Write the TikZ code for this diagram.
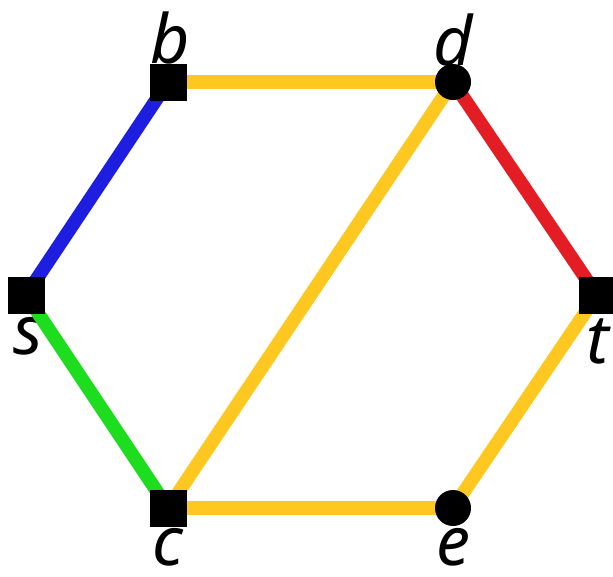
\documentclass[tikz,border=0pt]{standalone}
\usepackage{fontspec}
\setmainfont{Noto Sans}
\definecolor{eblue}{RGB}{30,30,225}
\definecolor{eyellow}{RGB}{255,200,32}
\definecolor{ered}{RGB}{228,28,36}
\definecolor{egreen}{RGB}{30,220,30}
\tikzset{
  sqv/.style={fill=black,draw=none,minimum size=37pt,inner sep=0pt,rectangle},
  crv/.style={fill=black,draw=none,minimum size=36pt,inner sep=0pt,circle},
  edge/.style={line width=13.5pt},
  lbl/.style={anchor=base,inner sep=0pt,font=\fontsize{68}{68}\selectfont\itshape}
}
\begin{document}
\begin{tikzpicture}[x=1pt,y=-1pt]
\useasboundingbox (0,0) rectangle (613,576);
\coordinate (s) at (26,295);
\coordinate (b) at (168,82);
\coordinate (d) at (453,82);
\coordinate (t) at (597,295);
\coordinate (e) at (453,508);
\coordinate (c) at (168,508);
\node[lbl] (lb) at (170,63) {b};
\node[lbl] (ld) at (453,65) {d};
\node[lbl] (ls) at (28,354) {s};
\node[lbl] (lt) at (598,363) {t};
\node[lbl] (lc) at (168,565) {c};
\node[lbl] (le) at (453,565) {e};
\draw[edge,eblue] (s) -- (b);
\draw[edge,eyellow] (b) -- (d);
\draw[edge,ered] (d) -- (t);
\draw[edge,eyellow] (t) -- (e);
\draw[edge,eyellow] (e) -- (c);
\draw[edge,egreen] (c) -- (s);
\draw[edge,eyellow] (c) -- (d);
\node[sqv] (ns) at (s) {};
\node[sqv] (nb) at (b) {};
\node[crv] (nd) at (d) {};
\node[sqv] (nt) at (t) {};
\node[crv] (ne) at (e) {};
\node[sqv] (nc) at (c) {};
\end{tikzpicture}
\end{document}
